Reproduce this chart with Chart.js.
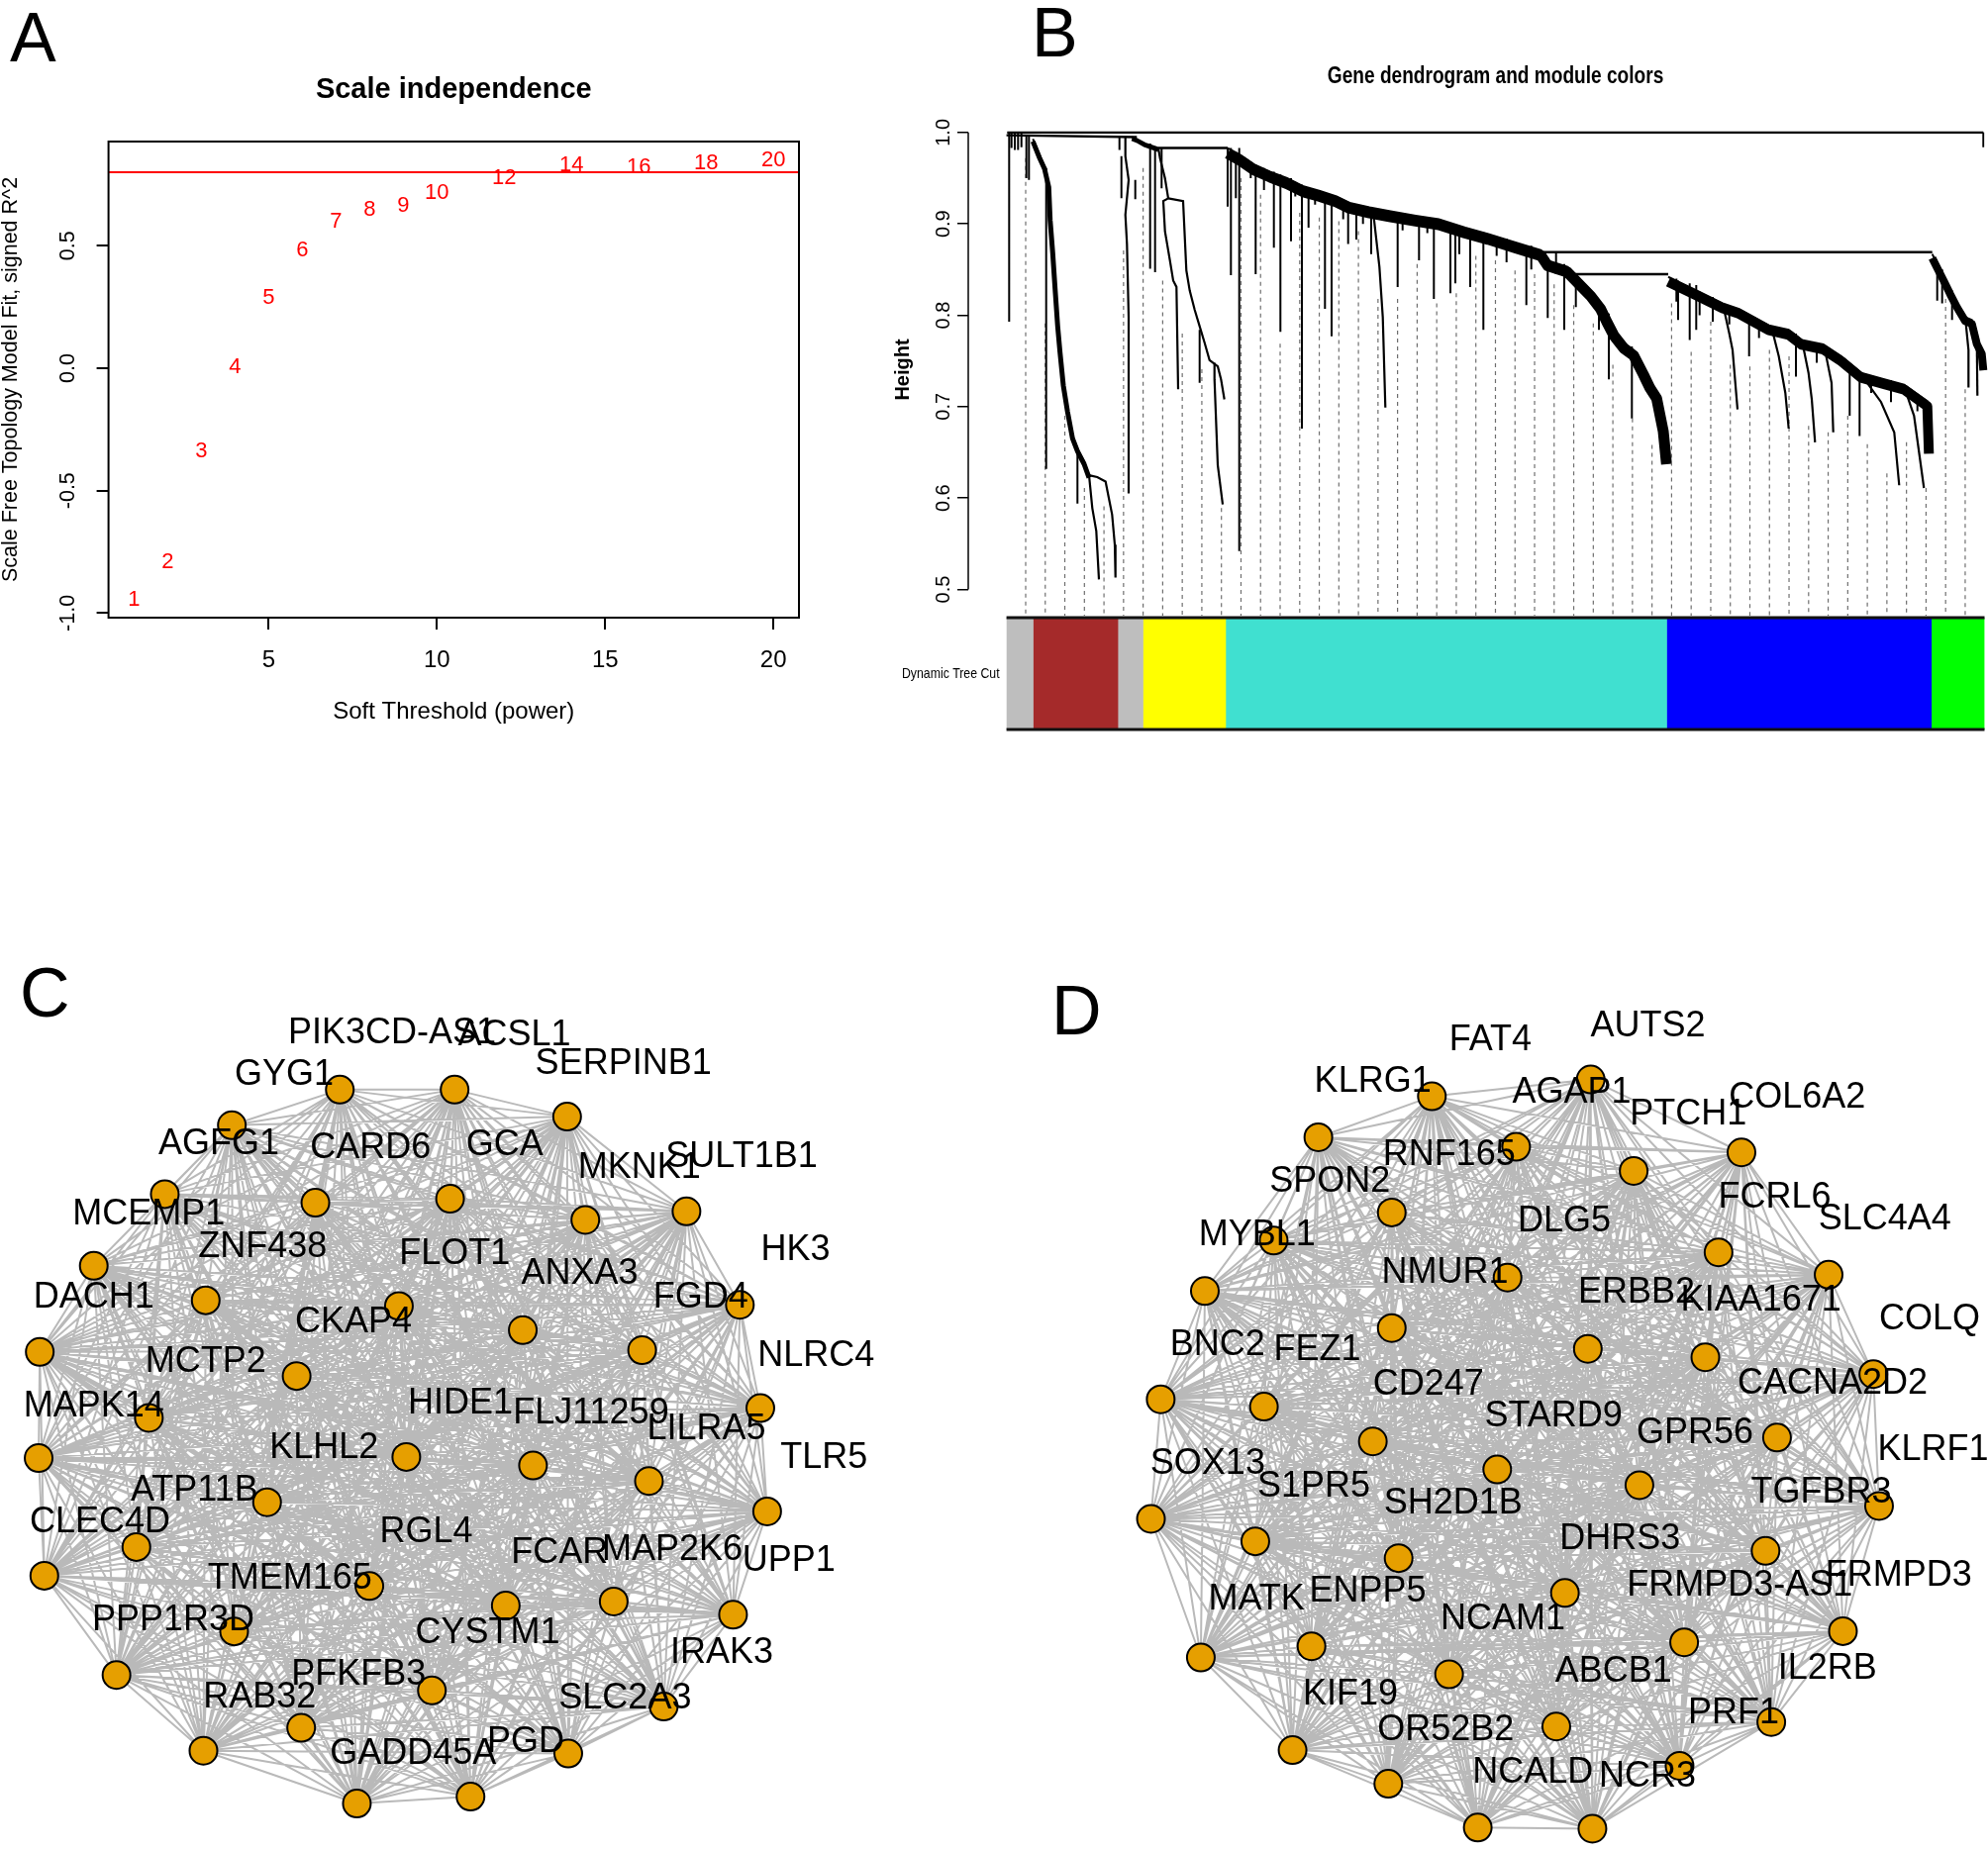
<!DOCTYPE html>
<html>
<head>
<meta charset="utf-8">
<script src="https://cdn.jsdelivr.net/npm/chart.js@4.4.1/dist/chart.umd.min.js"></script>
<style>
  body { margin: 0; background: #fff; }
  #page { position: relative; width: 2008px; height: 1869px; overflow: hidden; font-family: "Liberation Sans", Arial, sans-serif; }
  canvas { position: absolute; }
  .tag { position: absolute; font-size: 70px; line-height: 1; color: #000; }
</style>
</head>
<body>
<div id="page">
  <div class="tag" style="left:10px;top:3px">A</div>
  <div class="tag" style="left:1042px;top:-2px">B</div>
  <div class="tag" style="left:20px;top:968px">C</div>
  <div class="tag" style="left:1062px;top:986px">D</div>
  <canvas id="chartA" width="830" height="760" style="left:0;top:0"></canvas>
  <canvas id="chartB" width="1108" height="582" style="left:900px;top:40px"></canvas>
  <canvas id="chartBar" width="1108" height="120" style="left:900px;top:622px"></canvas>
  <canvas id="chartC" width="900" height="909" style="left:0;top:960px"></canvas>
  <canvas id="chartD" width="908" height="889" style="left:1100px;top:980px"></canvas>
</div>
<script>
// ---- A: scale independence
const powers = [1, 2, 3, 4, 5, 6, 7, 8, 9, 10, 12, 14, 16, 18, 20];
const fitR2 = [-0.945, -0.791, -0.340, 0.005, 0.287, 0.480, 0.600, 0.648, 0.662, 0.715, 0.775, 0.830, 0.821, 0.837, 0.850];
const cutHeight = 0.8;
const xTicksA = [5, 10, 15, 20];
const yTicksA = [-1.0, -0.5, 0.0, 0.5];

// ---- B: dendrogram (x = leaf position, y = height)
const heightTicks = [0.5, 0.6, 0.7, 0.8, 0.9, 1.0];
const dendroJoins = [
  [[0.7, 1.0], [986.7, 1.0]],
  [[0, 0.997], [131.7, 0.995]],
  [[153.4, 0.983], [223.4, 0.983]],
  [[540.1, 0.869], [935.1, 0.869]],
  [[571.7, 0.845], [668.4, 0.845]]
];
const dendroStairs = [
  [[26.7, .993], [33.4, .975], [38.4, .963], [42.7, .943], [44.1, .907], [46.7, .871], [49.4, .827], [51.7, .791], [54.1, .762], [57.4, .726], [61.7, .697], [66.7, .668], [71.7, .654], [78.4, .640], [83.4, .625]],
  [[126.7, .995], [131.7, .993], [140.1, .988], [153.4, .983]],
  [[223.4, .983], [236.7, .975], [250.1, .965], [266.7, .957], [283.4, .950], [300.1, .941], [316.7, .936], [333.4, .930], [346.7, .923], [366.7, .918], [386.7, .914], [413.4, .909], [436.7, .905], [463.4, .896], [486.7, .889], [513.4, .880], [540.1, .871], [546.7, .860], [566.7, .853], [580.1, .838], [590.1, .827], [600.1, .813], [606.7, .798], [613.4, .784], [623.4, .770], [633.4, .762], [643.4, .741], [650.1, .726], [656.7, .715], [663.4, .679], [666.7, .643]],
  [[668.4, .842], [693.4, .829], [723.4, .813], [740.1, .807], [770.1, .789], [790.1, .784], [803.4, .773], [825.1, .768], [843.4, .755], [863.4, .737], [886.7, .730], [906.7, .724], [930.1, .706], [931.7, .654]],
  [[935.1, .867], [940.1, .856], [946.7, .842], [953.4, .827], [960.1, .813], [968.4, .798], [975.1, .795], [980.1, .773], [985.1, .762], [986.7, .744]]
];
const stairBandPx = [5, 4, 11, 10, 8];
const dendroBranches = [
  [[83.4, .625], [91.7, .623], [100.1, .618], [103.4, .600], [106.7, .582], [109.4, .549], [110.1, .513]],
  [[83.4, .625], [86.7, .589], [90.7, .564], [93.4, .511]],
  [[120.1, .995], [120.1, .974], [123.4, .948], [120.1, .910], [121.7, .878], [123.4, .798], [123.4, .605]],
  [[153.4, .983], [155.1, .972], [160.1, .950], [163.4, .928]],
  [[163.4, .928], [158.4, .925], [160.1, .892], [165.1, .860], [168.4, .838], [171.7, .831], [173.4, .719]],
  [[163.4, .928], [178.4, .925], [181.7, .849], [185.1, .827], [190.1, .806], [195.1, .788], [200.1, .770], [205.1, .751], [213.4, .744], [216.7, .730], [220.1, .708]],
  [[210.1, .748], [210.1, .730], [213.4, .636], [218.4, .593]],
  [[370.1, .916], [376.7, .853], [380.1, .798], [382.7, .699]],
  [[723.4, .813], [730.1, .780], [733.4, .762], [738.4, .697]],
  [[773.4, .784], [780.1, .755], [786.7, .715], [790.1, .676]],
  [[803.4, .773], [810.1, .737], [813.4, .708], [816.7, .661]],
  [[826.7, .762], [833.4, .726], [835.1, .672]],
  [[866.7, .730], [883.4, .705], [896.7, .672], [901.7, .614]],
  [[906.7, .722], [916.7, .690], [926.7, .611]],
  [[968.4, .798], [971.7, .762], [971.7, .721]],
  [[980.1, .773], [980.7, .712]]
];
// [leaf position, top height, bottom height]
const dendroDrops = [
  [2.7, 1.0, .793], [5.1, .999, .983], [8.4, .999, .981], [11.7, .999, .981], [15.1, .999, .984], [20.1, .997, .950], [22.7, .996, .948],
  [40.1, .961, .632], [71.7, .654, .594], [114.1, .995, .981], [116.1, .974, .928], [130.1, .948, .927],
  [145.1, .988, .851], [150.1, .984, .847], [156.7, .983, .939], [195.1, .784, .726],
  [235.1, .983, .542], [226.7, .983, .844], [251.7, .965, .845], [270.1, .957, .874], [276.7, .954, .782], [287.4, .950, .881], [298.4, .943, .676], [305.1, .939, .896], [321.7, .934, .807], [328.4, .930, .777],
  [223.4, .983, .919], [231.7, .979, .928], [246.7, .968, .950], [260.1, .961, .937], [291.7, .946, .930], [311.7, .937, .921],
  [340.1, .927, .905], [360.1, .920, .900], [400.1, .911, .893], [425.1, .907, .890], [495.1, .886, .865], [505.1, .884, .858], [530.1, .876, .850], [555.1, .868, .845],
  [345.1, .923, .878], [353.4, .921, .883], [368.4, .918, .867], [395.1, .912, .831], [416.7, .909, .860], [431.7, .905, .818], [448.4, .900, .824], [453.4, .898, .835], [457.4, .896, .867], [468.4, .894, .831], [481.7, .891, .784], [525.1, .874, .811], [546.7, .863, .797], [563.4, .856, .784], [575.1, .845, .809], [598.4, .815, .784], [608.4, .802, .730], [631.7, .766, .687],
  [676.7, .840, .815], [700.1, .826, .800], [730.1, .811, .790], [760.1, .795, .775], [818.4, .770, .748], [873.4, .734, .715], [893.4, .729, .705], [920.1, .714, .695],
  [678.4, .838, .795], [690.1, .835, .773], [696.7, .833, .784], [713.4, .820, .793], [750.1, .798, .755], [797.4, .780, .733], [851.7, .741, .690], [861.7, .733, .668],
  [940.1, .856, .816], [945.1, .850, .813], [955.1, .827, .795], [986.7, 1.0, .984]
];
const guideTops = [0.972, 0.791, 0.690, 0.611, 0.591, 0.871, 0.961, 0.838, 0.780, 0.741,
  0.589, 0.950, 0.932, 0.769, 0.912, 0.907, 0.903, 0.892, 0.818, 0.818,
  0.856, 0.813, 0.824, 0.865, 0.860, 0.849, 0.845, 0.834, 0.811, 0.791,
  0.746, 0.687, 0.658, 0.813, 0.760, 0.793, 0.746, 0.744, 0.762, 0.755,
  0.679, 0.672, 0.690, 0.659, 0.627, 0.661, 0.611, 0.818, 0.719, 0.972];
const guideStart = 19.4, guideStep = 19.77, guideBottom = 0.4713;

// module colour bar (widths in leaves)
const moduleColors = ['#bebebe', '#a52a2a', '#bebebe', '#ffff00', '#40e0d0', '#0000ff', '#00ff00'];
const moduleSizes = [26.9, 85.5, 25.4, 83.4, 445.2, 267.1, 53.7];

// ---- C: network (layout units)
const cNodeX = [800, 998, 1208, 1302, 1338, 1350, 1290, 1168, 1000, 828, 628, 358, 205, 78, 68, 70, 165, 290, 408, 598,
  555, 792, 1030, 362, 702, 920, 1130, 522, 262, 715, 938, 1142, 470, 240, 650, 890, 1080, 412, 760, 530];
const cNodeY = [243, 290, 455, 618, 798, 978, 1158, 1318, 1400, 1475, 1487, 1395, 1263, 1090, 885, 700, 550, 425, 305, 243,
  440, 433, 470, 610, 620, 662, 697, 742, 815, 883, 898, 925, 962, 1040, 1108, 1142, 1135, 1187, 1290, 1355];
const cLabels = ['PIK3CD-AS1', 'ACSL1', 'SERPINB1', 'GYG1', 'AGFG1', 'CARD6', 'GCA', 'MKNK1', 'SULT1B1', 'MCEMP1',
  'ZNF438', 'FLOT1', 'ANXA3', 'HK3', 'DACH1', 'FGD4', 'CKAP4', 'NLRC4', 'MCTP2', 'MAPK14',
  'HIDE1', 'FLJ11259', 'LILRA5', 'TLR5', 'KLHL2', 'ATP11B', 'CLEC4D', 'RGL4', 'FCAR', 'MAP2K6',
  'UPP1', 'TMEM165', 'PPP1R3D', 'CYSTM1', 'IRAK3', 'PFKFB3', 'RAB32', 'SLC2A3', 'GADD45A', 'PGD'];
const cLabelX = [690, 905, 1097, 500, 385, 652, 888, 1125, 1305, 262, 462, 800, 1020, 1400, 165, 1233, 622, 1436, 362, 165,
  810, 1040, 1243, 1450, 570, 342, 176, 750, 985, 1183, 1388, 510, 305, 858, 1270, 631, 457, 1100, 727, 925];
const cLabelY = [145, 148, 198, 218, 338, 345, 340, 380, 360, 460, 518, 530, 565, 522, 605, 605, 648, 708, 718, 795,
  790, 808, 835, 885, 868, 942, 998, 1015, 1050, 1045, 1065, 1095, 1168, 1190, 1225, 1262, 1302, 1305, 1400, 1380];

// ---- D: network (layout units)
const dNodeX = [598, 875, 1138, 1290, 1368, 1378, 1315, 1190, 1030, 878, 678, 522, 355, 195, 108, 125, 202, 400,
  745, 950, 528, 322, 1098, 730, 528, 870, 1075, 305, 495, 1200, 712, 960, 290, 540, 1180, 830, 388, 1038, 628, 815];
const dNodeY = [225, 195, 325, 543, 720, 955, 1178, 1340, 1418, 1530, 1528, 1450, 1390, 1225, 978, 765, 572, 298,
  315, 358, 432, 482, 503, 548, 638, 675, 690, 778, 840, 833, 890, 918, 1018, 1048, 1035, 1110, 1205, 1198, 1255, 1348];
const dLabels = ['FAT4', 'AUTS2', 'KLRG1', 'AGAP1', 'PTCH1', 'COL6A2', 'RNF165', 'SPON2', 'FCRL6', 'SLC4A4',
  'MYBL1', 'DLG5', 'NMUR1', 'ERBB2', 'KIAA1671', 'COLQ', 'BNC2', 'FEZ1', 'CD247', 'CACNA2D2',
  'STARD9', 'GPR56', 'KLRF1', 'SOX13', 'S1PR5', 'SH2D1B', 'TGFBR3', 'DHRS3', 'FRMPD3', 'MATK',
  'ENPP5', 'FRMPD3-AS1', 'NCAM1', 'IL2RB', 'ABCB1', 'KIF19', 'PRF1', 'OR52B2', 'NCALD', 'NCR3'];
const dLabelX = [700, 975, 495, 842, 1045, 1235, 628, 420, 1196, 1388, 293, 829, 621, 955, 1172, 1466, 224, 398, 592, 1297,
  810, 1057, 1472, 207, 392, 635, 1277, 926, 1412, 292, 486, 1135, 722, 1288, 915, 456, 1124, 622, 774, 974];
const dLabelY = [125, 100, 200, 218, 258, 228, 330, 378, 405, 445, 472, 448, 540, 575, 590, 622, 668, 678, 740, 738,
  795, 825, 855, 880, 920, 950, 932, 1015, 1080, 1122, 1108, 1098, 1158, 1245, 1250, 1292, 1325, 1355, 1430, 1438];

const SANS = '"Liberation Sans", Arial, sans-serif';

Chart.defaults.font.family = SANS;
Chart.defaults.color = '#000';
Chart.defaults.animation = false;
Chart.defaults.events = [];
Chart.defaults.layout.autoPadding = false;
Chart.defaults.plugins.legend.display = false;
Chart.defaults.plugins.tooltip.enabled = false;

// keep tick-label overhang from shrinking the plot area
const noPad = s => { s.paddingTop = 0; s.paddingBottom = 0; s.paddingLeft = 0; s.paddingRight = 0; };

// writes text at each point of datasets that carry a "marks" entry
const textMarks = {
  id: 'textMarks',
  afterDatasetsDraw(chart) {
    const ctx = chart.ctx;
    chart.data.datasets.forEach((ds, i) => {
      if (!ds.marks) return;
      ctx.save();
      ctx.font = ds.marks.font;
      ctx.fillStyle = ds.marks.color;
      ctx.textAlign = 'center';
      ctx.textBaseline = 'middle';
      chart.getDatasetMeta(i).data.forEach((pt, j) => ctx.fillText(ds.marks.text[j], pt.x, pt.y));
      ctx.restore();
    });
  }
};

// text drawn with optional horizontal squeeze (stands in for a narrow face)
function drawText(ctx, text, font, x, y, align, squeeze) {
  ctx.save();
  ctx.font = font;
  ctx.fillStyle = '#000';
  ctx.textAlign = align;
  ctx.textBaseline = 'middle';
  ctx.translate(x, y);
  ctx.scale(squeeze, 1);
  ctx.fillText(text, 0, 0);
  ctx.restore();
}

const frameBox = {
  id: 'frameBox',
  afterDatasetsDraw(chart) {
    const { ctx, chartArea: a } = chart;
    ctx.save();
    ctx.strokeStyle = '#000';
    ctx.lineWidth = 2;
    ctx.strokeRect(a.left, a.top, a.right - a.left, a.bottom - a.top);
    ctx.restore();
  }
};

const tickAxis = (len, w) => ({ display: true, drawOnChartArea: false, tickLength: len, color: '#000', lineWidth: w });

// ---------------- Panel A
new Chart(document.getElementById('chartA'), {
  type: 'scatter',
  data: {
    datasets: [
      {
        data: powers.map((p, i) => ({ x: p, y: fitR2[i] })),
        pointRadius: 0,
        marks: { text: powers.map(String), font: '22px ' + SANS, color: '#ff0000' }
      },
      {
        data: [{ x: 0.24, y: cutHeight }, { x: 20.76, y: cutHeight }],
        showLine: true, borderColor: '#ff0000', borderWidth: 2, pointRadius: 0
      }
    ]
  },
  options: {
    responsive: false,
    layout: { padding: { top: 143, right: 23, left: 0, bottom: 0 } },
    scales: {
      x: {
        type: 'linear', min: 0.24, max: 20.76,
        afterBuildTicks: s => { s.ticks = xTicksA.map(v => ({ value: v })); },
        afterFit: s => { s.height = 136; noPad(s); },
        grid: tickAxis(12, 2),
        border: { display: false },
        ticks: { padding: 16.6, maxRotation: 0, autoSkip: false, font: { size: 24 }, callback: v => String(v) },
        title: { display: true, text: 'Soft Threshold (power)', font: { size: 24 }, padding: { top: 0, bottom: 26.6 } }
      },
      y: {
        type: 'linear', min: -1.0185, max: 0.9255,
        afterBuildTicks: s => { s.ticks = yTicksA.map(v => ({ value: v })); },
        afterFit: s => { s.width = 109.6; noPad(s); },
        grid: tickAxis(12, 2),
        border: { display: false },
        ticks: { minRotation: 90, maxRotation: 90, crossAlign: 'center', padding: 10, autoSkip: false, font: { size: 21.5 }, callback: v => v.toFixed(1) },
        title: { display: true, text: 'Scale Free Topology Model Fit, signed R^2', font: { size: 21.5, lineHeight: 1 }, padding: { top: 0, bottom: 0 } }
      }
    }
  },
  plugins: [textMarks, frameBox, {
    id: 'titleA',
    afterDraw: c => drawText(c.ctx, 'Scale independence', 'bold 29px ' + SANS, (c.chartArea.left + c.chartArea.right) / 2, 91, 'center', 1)
  }]
});

// ---------------- Panel B dendrogram
const toPts = arr => arr.map(([x, y]) => ({ x, y }));
const dendroSets = [];
dendroJoins.forEach(p => dendroSets.push({ data: toPts(p), borderWidth: 2.4 }));
dendroStairs.forEach((p, i) => dendroSets.push({ data: toPts(p), borderWidth: 2, band: stairBandPx[i] }));
dendroBranches.forEach(p => dendroSets.push({ data: toPts(p), borderWidth: 2.2 }));
const dropPts = [];
dendroDrops.forEach(([x, t, b]) => dropPts.push({ x, y: t }, { x, y: b }, { x, y: null }));
dendroSets.push({ data: dropPts, borderWidth: 2 });
const guidePts = [];
guideTops.forEach((t, i) => {
  const x = guideStart + i * guideStep;
  guidePts.push({ x, y: t }, { x, y: guideBottom }, { x, y: null });
});
dendroSets.push({ data: guidePts, borderWidth: 1.2, borderColor: '#6e6e6e', borderDash: [4, 4] });
dendroSets.forEach(ds => Object.assign(ds, { showLine: true, pointRadius: 0, spanGaps: false, borderColor: ds.borderColor || '#000' }));

// dense merge combs hanging under the staircases
const stairBands = {
  id: 'stairBands',
  beforeDatasetsDraw(chart) {
    const ctx = chart.ctx;
    chart.data.datasets.forEach((ds, i) => {
      if (!ds.band) return;
      const pts = chart.getDatasetMeta(i).data;
      ctx.save();
      ctx.strokeStyle = '#000';
      ctx.lineWidth = ds.band;
      ctx.lineJoin = 'round';
      ctx.beginPath();
      pts.forEach((p, j) => j ? ctx.lineTo(p.x, p.y + ds.band / 2) : ctx.moveTo(p.x, p.y + ds.band / 2));
      ctx.stroke();
      ctx.restore();
    });
  }
};

const axisLineB = {
  id: 'axisLineB',
  afterDraw(chart) {
    const { ctx, chartArea: a, scales: { y } } = chart;
    ctx.save();
    ctx.strokeStyle = '#000';
    ctx.lineWidth = 1.5;
    ctx.beginPath();
    ctx.moveTo(a.left, y.getPixelForValue(heightTicks[0]));
    ctx.lineTo(a.left, y.getPixelForValue(heightTicks[heightTicks.length - 1]));
    ctx.stroke();
    ctx.restore();
  }
};

new Chart(document.getElementById('chartB'), {
  type: 'scatter',
  data: { datasets: dendroSets },
  options: {
    responsive: false,
    layout: { padding: { top: 85, right: 3.5, left: 0, bottom: 0 } },
    scales: {
      x: { type: 'linear', min: -38.6, max: 987.9, display: false },
      y: {
        type: 'linear', min: guideBottom, max: 1.0096,
        afterBuildTicks: s => { s.ticks = heightTicks.map(v => ({ value: v })); },
        afterFit: s => { s.width = 78; noPad(s); },
        grid: tickAxis(11, 1.5),
        border: { display: false },
        ticks: { minRotation: 90, maxRotation: 90, crossAlign: 'center', padding: 0, autoSkip: false, font: { size: 20 }, callback: v => v.toFixed(1) },
        title: { display: true, text: 'Height', font: { size: 20, weight: 'bold', lineHeight: 1.2 }, padding: { top: 0.7, bottom: 0 } }
      }
    }
  },
  plugins: [stairBands, axisLineB, {
    id: 'titleB',
    afterDraw: c => drawText(c.ctx, 'Gene dendrogram and module colors', 'bold 23px ' + SANS,
      (c.scales.x.getPixelForValue(0) + c.chartArea.right) / 2, 37.7, 'center', 0.83)
  }]
});

// ---------------- Panel B colour bar
const barEdges = {
  id: 'barEdges',
  afterDatasetsDraw(chart) {
    const { ctx, chartArea: a, scales: { y } } = chart;
    ctx.save();
    ctx.strokeStyle = '#111';
    ctx.lineWidth = 3;
    ctx.beginPath();
    ctx.moveTo(a.left, a.top); ctx.lineTo(a.right, a.top);
    ctx.moveTo(a.left, a.bottom); ctx.lineTo(a.right, a.bottom);
    ctx.stroke();
    ctx.restore();
    drawText(ctx, chart.data.labels[0], '15px ' + SANS, a.left - 7, y.getPixelForValue(0), 'right', 0.82);
  }
};
new Chart(document.getElementById('chartBar'), {
  type: 'bar',
  data: {
    labels: ['Dynamic Tree Cut'],
    datasets: moduleColors.map((c, i) => ({
      data: [moduleSizes[i]], backgroundColor: c, borderWidth: 0, barPercentage: 1, categoryPercentage: 1
    }))
  },
  options: {
    indexAxis: 'y',
    responsive: false,
    layout: { padding: { top: 2, right: 3.5, bottom: 5, left: 116.6 } },
    scales: {
      x: { stacked: true, display: false, min: 0, max: moduleSizes.reduce((a, b) => a + b, 0) },
      y: { stacked: true, display: false }
    }
  },
  plugins: [barEdges]
});

// ---------------- Panels C and D: co-expression networks
function networkChart(id, nodeX, nodeY, labels, labelX, labelY) {
  const nodes = nodeX.map((x, i) => ({ x, y: nodeY[i] }));
  const edges = [];
  for (let i = 0; i < nodes.length; i++) {
    for (let j = i + 1; j < nodes.length; j++) {
      edges.push(nodes[i], nodes[j], { x: nodes[j].x, y: null });
    }
  }
  new Chart(document.getElementById(id), {
    type: 'scatter',
    data: {
      datasets: [
        {
          data: labelX.map((x, i) => ({ x, y: labelY[i] })), pointRadius: 0, order: 0, clip: false,
          marks: { text: labels, font: '36px ' + SANS, color: '#000' }
        },
        {
          data: nodes, pointRadius: 14, backgroundColor: '#e69f00', borderColor: '#000', borderWidth: 2, order: 1, clip: false
        },
        {
          data: edges, showLine: true, spanGaps: false, pointRadius: 0, borderColor: '#b9b9b9', borderWidth: 2, order: 2, clip: false
        }
      ]
    },
    options: {
      responsive: false,
      layout: { padding: 0 },
      scales: {
        x: { type: 'linear', min: 0, max: 1568, display: false },
        y: { type: 'linear', min: 0, max: 1568, reverse: true, display: false }
      }
    },
    plugins: [textMarks]
  });
}
networkChart('chartC', cNodeX, cNodeY, cLabels, cLabelX, cLabelY);
networkChart('chartD', dNodeX, dNodeY, dLabels, dLabelX, dLabelY);
</script>
</body>
</html>
